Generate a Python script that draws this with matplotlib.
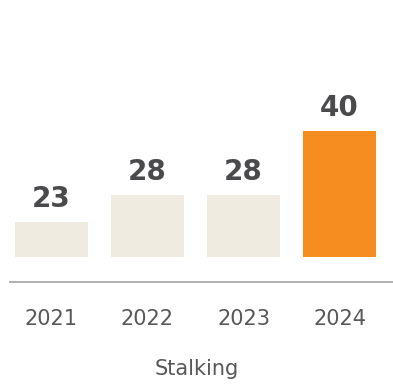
import matplotlib
matplotlib.use('Agg')
import matplotlib.pyplot as plt
import matplotlib.transforms as mtransforms

# --- Daten ---
years = ['2021', '2022', '2023', '2024']
values = [23, 28, 28, 40]
category_label = 'Stalking'
# -------------

beige = '#EFEBE1'
orange = '#F68D20'
text_dark = '#4A4A4C'
text_grey = '#58585A'
colors = [beige, beige, beige, orange]

# value scale (pixels per unit) and value at the bar base
px_per_unit = 5.36
base_value = 16.5
base_px = 257          # bar bottom, pixels from top
fig_h_px = 389

fig = plt.figure(figsize=(3.93, 3.89), dpi=100)
ax = fig.add_axes([0, 0, 1, 1])
ax.set_xlim(-0.536, 3.557)
ax.set_ylim(base_value - (fig_h_px - base_px) / px_per_unit,
            base_value + base_px / px_per_unit)
ax.axis('off')

x = list(range(len(years)))
heights = [v - base_value for v in values]
ax.bar(x, heights, bottom=base_value, width=0.76, color=colors)

for xi, v in zip(x, values):
    ax.annotate(str(v), (xi, v), xytext=(0, 11), textcoords='offset points',
                ha='center', va='baseline', fontsize=20, fontweight='bold',
                family='DejaVu Sans', color=text_dark)

trans = mtransforms.blended_transform_factory(ax.transData, ax.transAxes)
# Grundlinie
ax.plot([-0.43, 3.557], [1 - 282 / fig_h_px] * 2, transform=trans,
        color='#ABABAB', lw=1.3, clip_on=False)

for xi, yr in zip(x, years):
    ax.text(xi, 1 - 319 / fig_h_px, yr, transform=trans, ha='center',
            va='center', fontsize=15, family='DejaVu Sans', color=text_grey)

ax.text(0.5, 1 - 369 / fig_h_px, category_label, transform=ax.transAxes,
        ha='center', va='center', fontsize=15, family='DejaVu Sans', color=text_grey)

plt.savefig('out.png', dpi=100)
